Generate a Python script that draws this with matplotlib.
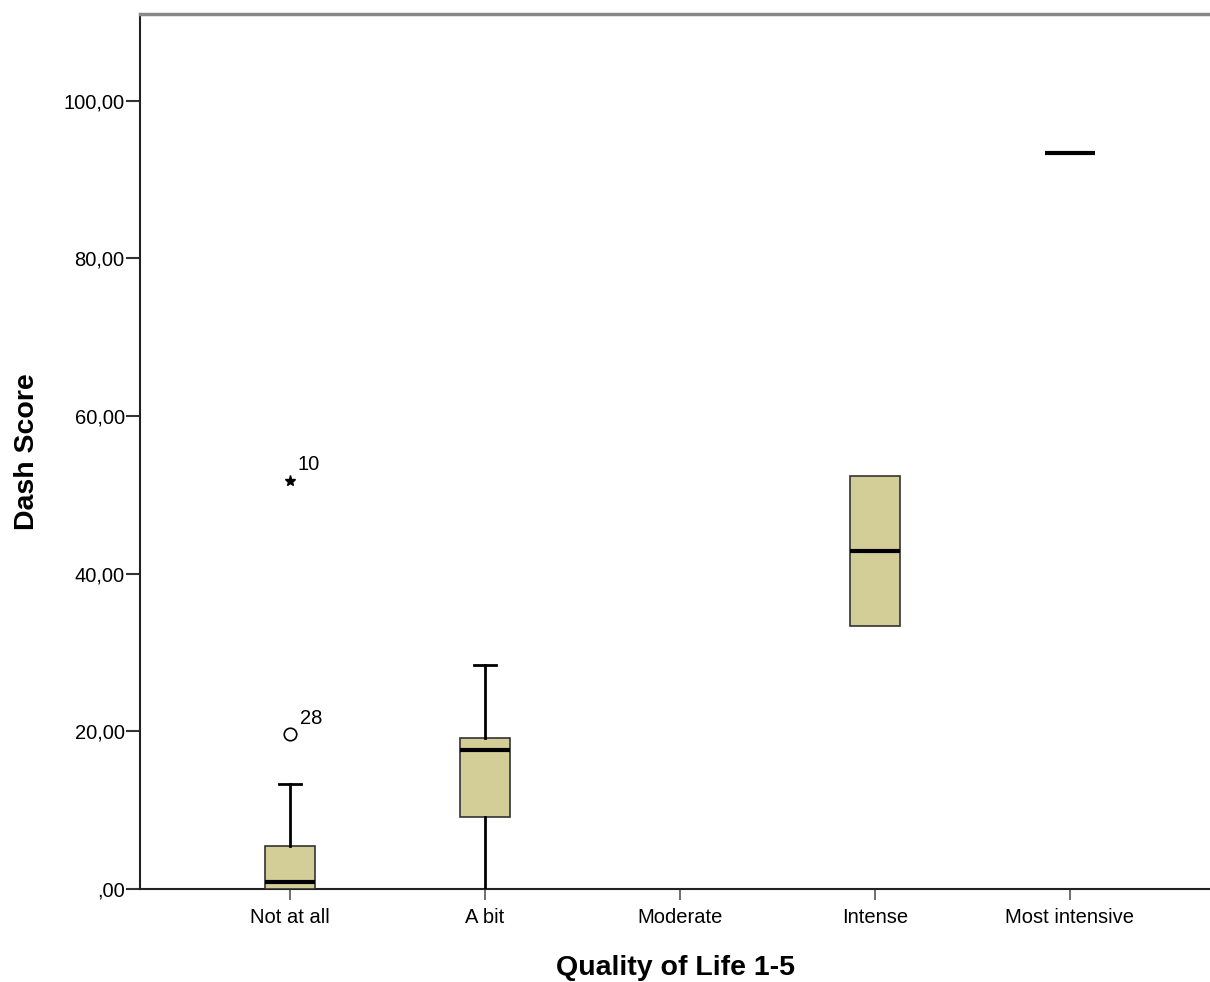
import matplotlib
matplotlib.use("Agg")
import matplotlib.pyplot as plt

plt.rcParams['font.family'] = ['Liberation Sans', 'DejaVu Sans']

categories = ["Not at all", "A bit", "Moderate", "Intense", "Most intensive"]
# box stats: (whislo, q1, med, q3, whishi) ; None = no data
box_whislo = [0.0, 0.0, None, 33.4, 93.4]
box_q1 = [0.0, 9.1, None, 33.4, 93.4]
box_med = [0.9, 17.6, None, 42.9, 93.4]
box_q3 = [5.5, 19.2, None, 52.4, 93.4]
box_whishi = [13.3, 28.4, None, 52.4, 93.4]
outlier_vals = [19.7]
outlier_labels = ["28"]
extreme_vals = [51.8]
extreme_labels = ["10"]

fig = plt.figure(figsize=(12.10, 9.82), dpi=100)
ax = fig.add_axes([140/1210, 93/982, 1 - 140/1210, (889-14)/982])

stats, pos = [], []
for i, c in enumerate(categories):
    if box_med[i] is None:
        continue
    stats.append(dict(whislo=box_whislo[i], q1=box_q1[i], med=box_med[i],
                      q3=box_q3[i], whishi=box_whishi[i], fliers=[], label=c))
    pos.append(i)

fill = '#D3CE97'
res = ax.bxp(stats, positions=pos, widths=0.256, patch_artist=True, showfliers=False,
             boxprops=dict(facecolor=fill, edgecolor='#333333', linewidth=1.2),
             medianprops=dict(color='black', linewidth=3),
             whiskerprops=dict(color='black', linewidth=2),
             capprops=dict(color='black', linewidth=2),
             capwidths=0.115, zorder=3)
# hide caps for zero-length whiskers (SPSS does not draw them)
for k, st in enumerate(stats):
    lo_cap, hi_cap = res['caps'][2*k], res['caps'][2*k+1]
    if st['whislo'] == st['q1'] or st['whislo'] == 0:
        lo_cap.set_visible(False)
    if st['whishi'] == st['q3']:
        hi_cap.set_visible(False)

for v, lab in zip(outlier_vals, outlier_labels):
    ax.plot(0, v, marker='o', markersize=9, markerfacecolor='white',
            markeredgecolor='black', markeredgewidth=1.2, linestyle='none', zorder=4)
    ax.annotate(lab, (0, v), xytext=(7, 7), textcoords='offset points', fontsize=14.5)
for v, lab in zip(extreme_vals, extreme_labels):
    ax.plot(0, v, marker='*', markersize=8, color='black', linestyle='none', zorder=4)
    ax.annotate(lab, (0, v), xytext=(5, 8), textcoords='offset points', fontsize=14.5)

ax.set_xlim(-0.77, 4.72)
ax.set_ylim(0, 111.0)
ax.set_xticks(range(len(categories)))
ax.set_xticklabels(categories, fontsize=14.5)
yt = [0, 20, 40, 60, 80, 100]
ax.set_yticks(yt)
ax.set_yticklabels([",00" if t == 0 else f"{t},00" for t in yt], fontsize=14.5)
ax.tick_params(axis='y', length=10, width=1.5, color='#333333', pad=1)
ax.tick_params(axis='x', length=8, width=1.2, color='#555555', pad=6)

for s in ['left', 'bottom']:
    ax.spines[s].set_color('#222222')
    ax.spines[s].set_linewidth(1.5)
ax.spines['top'].set_color('#888888')
ax.spines['top'].set_linewidth(2.5)
ax.spines['right'].set_visible(False)

ax.set_xlabel("Quality of Life 1-5", fontsize=20.5, fontweight='bold', labelpad=20)
ax.set_ylabel("Dash Score", fontsize=20.5, fontweight='bold', labelpad=17)

fig.savefig("out.png", dpi=100)
